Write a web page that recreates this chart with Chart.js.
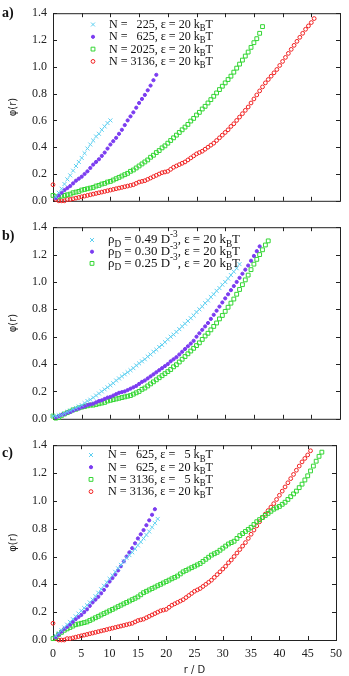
<!DOCTYPE html>
<html>
<head>
<meta charset="utf-8">
<script src="https://cdn.jsdelivr.net/npm/chart.js@4"></script>
<style>
  html, body { margin: 0; padding: 0; background: #fff; }
  #wrap { position: relative; width: 349px; height: 676px; }
  canvas { position: absolute; left: 0; }
</style>
</head>
<body>
<div id="wrap">
  <canvas id="pa" width="349" height="214" style="top:0"></canvas>
  <canvas id="pb" width="349" height="218" style="top:214px"></canvas>
  <canvas id="pc" width="349" height="244" style="top:432px"></canvas>
</div>
<script>
// r / D sample positions shared by all series
const rValues = [0,0.5,1,1.5,2,2.5,3,3.5,4,4.5,5,5.5,6,6.5,7,7.5,8,8.5,9,9.5,
  10,10.5,11,11.5,12,12.5,13,13.5,14,14.5,15,15.5,16,16.5,17,17.5,18,18.5,19,19.5,
  20,20.5,21,21.5,22,22.5,23,23.5,24,24.5,25,25.5,26,26.5,27,27.5,28,28.5,29,29.5,
  30,30.5,31,31.5,32,32.5,33,33.5,34,34.5,35,35.5,36,36.5,37,37.5,38,38.5,39,39.5,
  40,40.5,41,41.5,42,42.5,43,43.5,44,44.5,45,45.5,46,46.5,47,47.5];

// panel a
const phiN225 = [null,0.03,0.06,0.09,0.125,0.16,0.19,0.225,0.26,0.29,0.32,0.355,0.39,0.42,0.45,0.48,0.50,0.53,0.555,0.58,0.60];
const phiN625 = [null,0.02,0.04,0.06,0.08,0.095,0.11,0.13,0.15,0.165,
  0.18,0.20,0.22,0.245,0.27,0.29,0.31,0.335,0.36,0.39,
  0.42,0.445,0.47,0.50,0.53,0.565,0.60,0.63,0.66,0.695,
  0.73,0.76,0.79,0.825,0.86,0.90,0.94];
const phiN2025 = [0.04,0.03,0.03,0.035,0.04,0.045,0.05,0.06,0.065,0.07,
  0.08,0.085,0.09,0.095,0.10,0.11,0.115,0.125,0.13,0.14,
  0.145,0.155,0.165,0.175,0.185,0.195,0.205,0.22,0.23,0.245,
  0.26,0.275,0.29,0.305,0.325,0.34,0.36,0.375,0.395,0.41,
  0.43,0.45,0.47,0.49,0.51,0.53,0.55,0.57,0.595,0.615,
  0.64,0.66,0.685,0.705,0.73,0.755,0.78,0.805,0.83,0.855,
  0.88,0.905,0.93,0.96,0.99,1.02,1.05,1.08,1.11,1.145,
  1.18,1.21,1.25,1.30];
const phiN3136 = [0.12,0.01,0.00,0.00,0.00,0.01,0.01,0.015,0.02,0.025,
  0.03,0.035,0.04,0.045,0.05,0.055,0.06,0.065,0.07,0.075,
  0.08,0.085,0.09,0.095,0.10,0.105,0.11,0.115,0.12,0.13,
  0.14,0.145,0.15,0.16,0.17,0.18,0.19,0.20,0.21,0.215,
  0.22,0.235,0.25,0.26,0.27,0.28,0.29,0.305,0.32,0.335,
  0.35,0.36,0.37,0.385,0.40,0.415,0.43,0.45,0.47,0.49,
  0.51,0.53,0.555,0.575,0.60,0.625,0.65,0.675,0.70,0.73,
  0.76,0.79,0.82,0.85,0.88,0.905,0.93,0.955,0.98,1.01,
  1.04,1.07,1.10,1.13,1.16,1.19,1.22,1.25,1.28,1.305,
  1.33,1.36];

// panel b
const phiRho049 = [0.02,0.02,0.025,0.03,0.04,0.05,0.06,0.07,0.08,0.09,
  0.10,0.115,0.13,0.14,0.155,0.17,0.185,0.20,0.215,0.23,
  0.245,0.26,0.28,0.295,0.31,0.325,0.34,0.355,0.37,0.39,
  0.405,0.42,0.435,0.455,0.47,0.49,0.505,0.525,0.54,0.56,
  0.58,0.60,0.615,0.635,0.655,0.675,0.695,0.715,0.735,0.755,
  0.78,0.80,0.82,0.845,0.865,0.89,0.91,0.935,0.955,0.98,
  1.00,1.025,1.05,1.075,1.10,1.13];
const phiRho030 = [null,0.01,0.02,0.03,0.035,0.045,0.05,0.06,0.07,0.075,
  0.085,0.09,0.10,0.105,0.11,0.12,0.13,0.135,0.145,0.155,
  0.16,0.17,0.18,0.19,0.195,0.20,0.21,0.22,0.23,0.24,
  0.255,0.27,0.28,0.295,0.31,0.325,0.34,0.355,0.37,0.385,
  0.40,0.42,0.435,0.45,0.47,0.49,0.51,0.53,0.55,0.57,
  0.60,0.625,0.65,0.675,0.70,0.73,0.76,0.79,0.82,0.85,
  0.88,0.91,0.94,0.97,1.00,1.03,1.06,1.09,1.12,1.155,
  1.19,1.225,1.26];
const phiRho025 = [0.02,0.005,0.01,0.025,0.035,0.045,0.055,0.065,0.07,0.08,
  0.085,0.09,0.095,0.10,0.10,0.105,0.11,0.115,0.12,0.13,
  0.135,0.14,0.145,0.15,0.155,0.16,0.165,0.17,0.18,0.19,
  0.20,0.215,0.225,0.24,0.255,0.27,0.285,0.30,0.315,0.33,
  0.345,0.36,0.38,0.395,0.415,0.435,0.455,0.475,0.495,0.515,
  0.535,0.555,0.58,0.605,0.625,0.65,0.675,0.70,0.73,0.755,
  0.785,0.815,0.845,0.875,0.91,0.945,0.98,1.015,1.05,1.09,
  1.13,1.165,1.20,1.235,1.27,1.30];

// panel c (the 20 kBT runs are the same as in panel a)
const phiN625eps5 = [null,0.03,0.05,0.07,0.09,0.11,0.13,0.15,0.17,0.19,
  0.21,0.23,0.25,0.27,0.29,0.315,0.34,0.365,0.39,0.415,
  0.44,0.465,0.49,0.515,0.54,0.565,0.59,0.61,0.63,0.655,
  0.68,0.705,0.73,0.755,0.78,0.81,0.84,0.87];
const phiN3136eps5 = [0.01,0.02,0.04,0.055,0.07,0.08,0.09,0.10,0.11,0.115,
  0.12,0.125,0.13,0.14,0.15,0.16,0.17,0.18,0.19,0.20,
  0.21,0.22,0.23,0.24,0.25,0.26,0.27,0.28,0.29,0.30,
  0.31,0.325,0.34,0.35,0.36,0.37,0.38,0.39,0.40,0.41,
  0.42,0.43,0.44,0.45,0.46,0.475,0.49,0.50,0.51,0.52,
  0.53,0.54,0.55,0.565,0.58,0.595,0.61,0.62,0.63,0.645,
  0.66,0.675,0.69,0.70,0.71,0.73,0.75,0.765,0.78,0.795,
  0.81,0.83,0.85,0.865,0.88,0.895,0.91,0.925,0.94,0.95,
  0.96,0.975,0.99,1.01,1.03,1.05,1.07,1.095,1.12,1.15,
  1.18,1.215,1.25,1.285,1.32,1.35];

const labelsA = ["N =   225, \u03b5 = 20 k_{B}T", "N =   625, \u03b5 = 20 k_{B}T",
  "N = 2025, \u03b5 = 20 k_{B}T", "N = 3136, \u03b5 = 20 k_{B}T"];
const labelsB = ["\u03c1_{D} = 0.49 D^{-3}, \u03b5 = 20 k_{B}T", "\u03c1_{D} = 0.30 D^{-3}, \u03b5 = 20 k_{B}T",
  "\u03c1_{D} = 0.25 D^{-3}, \u03b5 = 20 k_{B}T"];
const labelsC = ["N =   625, \u03b5 =   5 k_{B}T", "N =   625, \u03b5 = 20 k_{B}T",
  "N = 3136, \u03b5 =   5 k_{B}T", "N = 3136, \u03b5 = 20 k_{B}T"];

const cyan = { pointStyle: "crossRot", radius: 2.8, color: "#5ccff0", bg: "#5ccff0" };
const purple = { pointStyle: "circle", radius: 1.6, color: "#7b3cf0", bg: "#7b3cf0" };
const green = { pointStyle: "rect", radius: 2.7, color: "#33d633", bg: "rgba(0,0,0,0)" };
const red = { pointStyle: "circle", radius: 1.9, color: "#f02020", bg: "rgba(0,0,0,0)" };

const serif = '"Liberation Serif", "Times New Roman", serif';

function makeSet(label, values, st) {
  const pts = [];
  values.forEach((v, i) => { if (v !== null) pts.push({ x: rValues[i], y: v }); });
  return {
    label: label, data: pts, showLine: false, clip: false,
    pointStyle: st.pointStyle, pointRadius: st.radius, pointHoverRadius: st.radius,
    pointBorderWidth: 1, borderColor: st.color, backgroundColor: st.bg
  };
}

// frame with inward ticks on all four sides (gnuplot style)
const framePlugin = {
  id: "frame",
  beforeDatasetsDraw(chart) {
    const { ctx, chartArea: a, scales } = chart;
    ctx.save();
    ctx.strokeStyle = "#222";
    ctx.lineWidth = 1;
    ctx.strokeRect(a.left + 0.5, a.top + 0.5, a.right - a.left, a.bottom - a.top);
    ctx.beginPath();
    scales.x.ticks.forEach(t => {
      const px = Math.round(scales.x.getPixelForValue(t.value)) + 0.5;
      ctx.moveTo(px, a.bottom); ctx.lineTo(px, a.bottom - 4);
      ctx.moveTo(px, a.top); ctx.lineTo(px, a.top + 4);
    });
    scales.y.ticks.forEach(t => {
      const py = Math.round(scales.y.getPixelForValue(t.value)) + 0.5;
      ctx.moveTo(a.left, py); ctx.lineTo(a.left + 4, py);
      ctx.moveTo(a.right, py); ctx.lineTo(a.right - 4, py);
    });
    ctx.stroke();
    ctx.restore();
  }
};

// text with _{sub} and ^{sup} parts; returns the width
function drawRich(ctx, str, x, y, size, measureOnly) {
  const x0 = x;
  str.split(/([_^]\{[^}]*\})/).forEach(p => {
    if (!p) return;
    let txt = p, dy = 0, fs = size;
    if (p.startsWith("_{")) { txt = p.slice(2, -1); dy = size * 0.32; fs = size * 0.72; }
    else if (p.startsWith("^{")) { txt = p.slice(2, -1); dy = -size * 0.42; fs = size * 0.72; }
    ctx.font = fs + "px " + serif;
    if (!measureOnly) ctx.fillText(txt, x, y + dy);
    x += ctx.measureText(txt).width;
  });
  return x - x0;
}

const keyPlugin = {
  id: "key",
  afterDatasetsDraw(chart, args, o) {
    const ctx = chart.ctx;
    const labels = chart.data.datasets.map(ds => ds.label);
    ctx.save();
    ctx.textBaseline = "middle";
    const widest = Math.max(...labels.map(l => drawRich(ctx, l, 0, 0, o.size, true)));
    const sx = o.width / widest;
    chart.data.datasets.forEach((ds, i) => {
      const y = o.y + i * o.dy;
      ctx.save();
      ctx.strokeStyle = ds.borderColor;
      ctx.fillStyle = ds.backgroundColor;
      Chart.helpers.drawPoint(ctx, { pointStyle: ds.pointStyle, radius: ds.pointRadius, borderWidth: 1, rotation: 0 }, o.x, y);
      ctx.restore();
      ctx.save();
      ctx.fillStyle = "#111";
      ctx.translate(o.textX, y);
      ctx.scale(sx, 1);
      drawRich(ctx, ds.label, 0, 0, o.size);
      ctx.restore();
    });
    // panel letter
    ctx.fillStyle = "#111";
    ctx.font = "bold 14px " + serif;
    ctx.textBaseline = "alphabetic";
    ctx.fillText(o.panel, 2, o.panelY);
    ctx.restore();
  }
};

function makeChart(id, datasets, showX, xHeight, key) {
  const tickFont = { family: serif, size: 12 };
  return new Chart(document.getElementById(id), {
    type: "scatter",
    data: { datasets: datasets },
    options: {
      responsive: false,
      animation: false,
      events: [],
      layout: { autoPadding: false, padding: { left: 0, right: 9, top: 6, bottom: 0 } },
      plugins: { legend: { display: false }, tooltip: { enabled: false }, key: key },
      scales: {
        x: {
          type: "linear", min: 0, max: 50,
          grid: { display: false, drawTicks: false }, border: { display: false },
          ticks: { stepSize: 5, display: showX, padding: 7, color: "#222", font: tickFont },
          title: { display: showX, text: "r / D", color: "#222", font: { family: "DejaVu Sans", size: 10 }, padding: { top: 0, bottom: 0 } },
          afterFit: s => { s.height = xHeight; }
        },
        y: {
          min: 0, max: 1.4,
          grid: { display: false, drawTicks: false }, border: { display: false },
          ticks: { stepSize: 0.2, padding: 6, color: "#222", font: tickFont, callback: v => v.toFixed(1) },
          title: { display: true, text: "\u03c6(r)", color: "#222", font: { family: "DejaVu Sans", size: 10 }, padding: { top: 7, bottom: 0 } },
          afterFit: s => { s.width = 53; }
        }
      }
    },
    plugins: [framePlugin, keyPlugin]
  });
}

makeChart("pa", [
  makeSet(labelsA[0], phiN225, cyan),
  makeSet(labelsA[1], phiN625, purple),
  makeSet(labelsA[2], phiN2025, green),
  makeSet(labelsA[3], phiN3136, red)
], false, 7, { x: 93, y: 24.5, dy: 12.3, textX: 109, size: 13, width: 104, panel: "a)", panelY: 17 });

makeChart("pb", [
  makeSet(labelsB[0], phiRho049, cyan),
  makeSet(labelsB[1], phiRho030, purple),
  makeSet(labelsB[2], phiRho025, green)
], false, 11, { x: 92, y: 26, dy: 11.7, textX: 108, size: 13, width: 132, panel: "b)", panelY: 26 });

makeChart("pc", [
  makeSet(labelsC[0], phiN625eps5, cyan),
  makeSet(labelsC[1], phiN625, purple),
  makeSet(labelsC[2], phiN3136eps5, green),
  makeSet(labelsC[3], phiN3136, red)
], true, 36, { x: 91, y: 23, dy: 12.2, textX: 108, size: 13, width: 105, panel: "c)", panelY: 25 });
</script>
</body>
</html>
